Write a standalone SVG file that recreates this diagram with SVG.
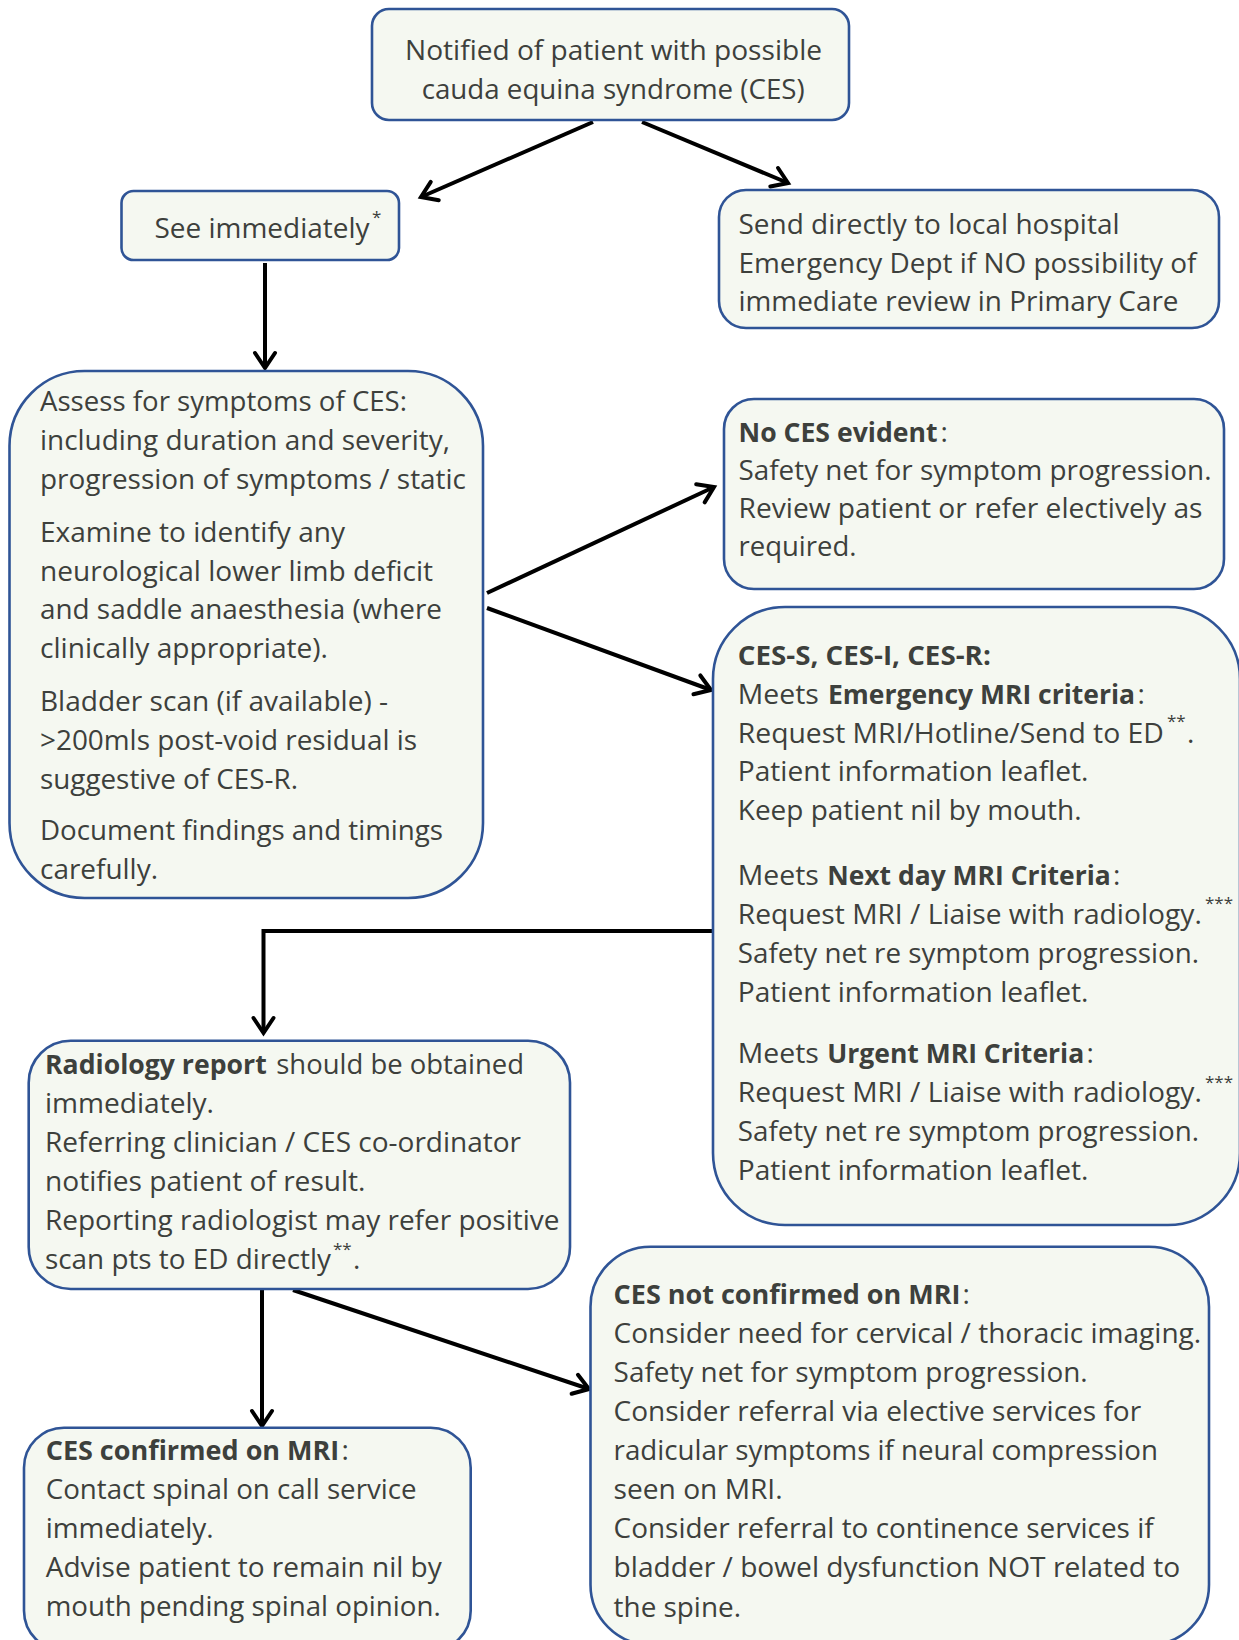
<svg xmlns="http://www.w3.org/2000/svg" width="1239" height="1640" viewBox="0 0 1239 1640">
<style>
.box{fill:#f5f8f1;stroke:#2f5496;stroke-width:2.6}
.t{font-family:"Open Sans","Noto Sans","DejaVu Sans",sans-serif;font-size:28px;fill:#3d403c}
.b{font-weight:bold;font-size:26.5px}
.sup{font-family:"Open Sans","Noto Sans","DejaVu Sans",sans-serif;font-size:17px;fill:#3d403c}
.conn{stroke:#000;stroke-width:4;fill:none}
</style>
<defs>
<marker id="arr" viewBox="0 0 24 24" markerWidth="24" markerHeight="24" refX="19" refY="12" orient="auto" markerUnits="userSpaceOnUse" overflow="visible">
<path d="M4,2 L19,12 L4,22" fill="none" stroke="#000" stroke-width="4" stroke-linecap="round" stroke-linejoin="miter"/>
</marker>
</defs>
<rect width="1239" height="1640" fill="#fff"/>

<g id="connectors">
<line class="conn" x1="593" y1="122" x2="421" y2="197" marker-end="url(#arr)"/>
<line class="conn" x1="642" y1="122" x2="788" y2="183" marker-end="url(#arr)"/>
<line class="conn" x1="265" y1="263" x2="265" y2="368" marker-end="url(#arr)"/>
<line class="conn" x1="487" y1="593" x2="714" y2="487" marker-end="url(#arr)"/>
<line class="conn" x1="487" y1="608" x2="711" y2="690" marker-end="url(#arr)"/>
<polyline class="conn" points="712,931 263.5,931 263.5,1033" marker-end="url(#arr)"/>
<line class="conn" x1="262" y1="1290" x2="262" y2="1426" marker-end="url(#arr)"/>
<line class="conn" x1="293" y1="1290" x2="589" y2="1389" marker-end="url(#arr)"/>
</g>

<g id="notified">
<rect class="box" x="372" y="9" width="477" height="111" rx="17"/>
<text class="t" x="405" y="60" textLength="417" lengthAdjust="spacingAndGlyphs">Notified of patient with possible</text>
<text class="t" x="421.7" y="98.5" textLength="383" lengthAdjust="spacingAndGlyphs">cauda equina syndrome (CES)</text>
</g>

<g id="see-immediately">
<rect class="box" x="121.5" y="191" width="277.5" height="69" rx="12"/>
<text class="t" x="154.5" y="238" textLength="215" lengthAdjust="spacingAndGlyphs">See immediately</text>
<text class="sup" x="372" y="222.5">*</text>
</g>

<g id="send-ed">
<rect class="box" x="719" y="190" width="500" height="138" rx="27"/>
<text class="t" x="738.5" y="234" textLength="381" lengthAdjust="spacingAndGlyphs">Send directly to local hospital</text>
<text class="t" x="738.5" y="272.5" textLength="458" lengthAdjust="spacingAndGlyphs">Emergency Dept if NO possibility of</text>
<text class="t" x="738.5" y="311" textLength="440" lengthAdjust="spacingAndGlyphs">immediate review in Primary Care</text>
</g>

<g id="assess">
<rect class="box" x="9.5" y="371" width="473.5" height="527" rx="75"/>
<text class="t" x="40" y="411" textLength="367" lengthAdjust="spacingAndGlyphs">Assess for symptoms of CES:</text>
<text class="t" x="40" y="450" textLength="410" lengthAdjust="spacingAndGlyphs">including duration and severity,</text>
<text class="t" x="40" y="488.5" textLength="426" lengthAdjust="spacingAndGlyphs">progression of symptoms / static</text>
<text class="t" x="40" y="542" textLength="305" lengthAdjust="spacingAndGlyphs">Examine to identify any</text>
<text class="t" x="40" y="580.5" textLength="393" lengthAdjust="spacingAndGlyphs">neurological lower limb deficit</text>
<text class="t" x="40" y="619" textLength="402" lengthAdjust="spacingAndGlyphs">and saddle anaesthesia (where</text>
<text class="t" x="40" y="658" textLength="288" lengthAdjust="spacingAndGlyphs">clinically appropriate).</text>
<text class="t" x="40" y="711" textLength="348" lengthAdjust="spacingAndGlyphs">Bladder scan (if available) -</text>
<text class="t" x="40" y="750" textLength="377" lengthAdjust="spacingAndGlyphs">&gt;200mls post-void residual is</text>
<text class="t" x="40" y="788.5" textLength="258" lengthAdjust="spacingAndGlyphs">suggestive of CES-R.</text>
<text class="t" x="40" y="840" textLength="403" lengthAdjust="spacingAndGlyphs">Document findings and timings</text>
<text class="t" x="40" y="878.5" textLength="118" lengthAdjust="spacingAndGlyphs">carefully.</text>
</g>

<g id="no-ces">
<rect class="box" x="724" y="399" width="500" height="190" rx="30"/>
<text class="t b" x="738.5" y="441.5" textLength="199" lengthAdjust="spacingAndGlyphs">No CES evident</text>
<text class="t" x="940.5" y="441.5">:</text>
<text class="t" x="738.5" y="480" textLength="473" lengthAdjust="spacingAndGlyphs">Safety net for symptom progression.</text>
<text class="t" x="738.5" y="518" textLength="464" lengthAdjust="spacingAndGlyphs">Review patient or refer electively as</text>
<text class="t" x="738.5" y="556" textLength="118" lengthAdjust="spacingAndGlyphs">required.</text>
</g>

<g id="ces-mri-criteria">
<rect class="box" x="713" y="607" width="527" height="618" rx="72"/>
<text class="t b" x="737.8" y="664.5" textLength="253" lengthAdjust="spacingAndGlyphs">CES-S, CES-I, CES-R:</text>
<text class="t" x="737.8" y="703.5" textLength="81" lengthAdjust="spacingAndGlyphs">Meets</text>
<text class="t b" x="828" y="703.5" textLength="307" lengthAdjust="spacingAndGlyphs">Emergency MRI criteria</text>
<text class="t" x="1137.5" y="703.5">:</text>
<text class="t" x="737.8" y="742.5" textLength="426" lengthAdjust="spacingAndGlyphs">Request MRI/Hotline/Send to ED</text>
<text class="sup" x="1167" y="727">**</text>
<text class="t" x="1187" y="742.5">.</text>
<text class="t" x="737.8" y="781" textLength="350.6" lengthAdjust="spacingAndGlyphs">Patient information leaflet.</text>
<text class="t" x="737.8" y="820" textLength="343.7" lengthAdjust="spacingAndGlyphs">Keep patient nil by mouth.</text>
<text class="t" x="737.8" y="885" textLength="81" lengthAdjust="spacingAndGlyphs">Meets</text>
<text class="t b" x="827.2" y="885" textLength="283.6" lengthAdjust="spacingAndGlyphs">Next day MRI Criteria</text>
<text class="t" x="1113" y="885">:</text>
<text class="t" x="737.8" y="923.5" textLength="464" lengthAdjust="spacingAndGlyphs">Request MRI / Liaise with radiology.</text>
<text class="sup" x="1205" y="909">***</text>
<text class="t" x="737.8" y="963" textLength="461.3" lengthAdjust="spacingAndGlyphs">Safety net re symptom progression.</text>
<text class="t" x="737.8" y="1002" textLength="350.6" lengthAdjust="spacingAndGlyphs">Patient information leaflet.</text>
<text class="t" x="737.8" y="1063" textLength="81" lengthAdjust="spacingAndGlyphs">Meets</text>
<text class="t b" x="827.2" y="1063" textLength="257" lengthAdjust="spacingAndGlyphs">Urgent MRI Criteria</text>
<text class="t" x="1086.5" y="1063">:</text>
<text class="t" x="737.8" y="1102" textLength="464" lengthAdjust="spacingAndGlyphs">Request MRI / Liaise with radiology.</text>
<text class="sup" x="1205" y="1088">***</text>
<text class="t" x="737.8" y="1141" textLength="461.3" lengthAdjust="spacingAndGlyphs">Safety net re symptom progression.</text>
<text class="t" x="737.8" y="1180" textLength="350.6" lengthAdjust="spacingAndGlyphs">Patient information leaflet.</text>
</g>

<g id="radiology-report">
<rect class="box" x="28.7" y="1040.7" width="541.3" height="248.3" rx="42"/>
<text class="t b" x="45" y="1074" textLength="221.7" lengthAdjust="spacingAndGlyphs">Radiology report</text>
<text class="t" x="276.3" y="1074" textLength="247.7" lengthAdjust="spacingAndGlyphs">should be obtained</text>
<text class="t" x="45" y="1113" textLength="169" lengthAdjust="spacingAndGlyphs">immediately.</text>
<text class="t" x="45" y="1152" textLength="476" lengthAdjust="spacingAndGlyphs">Referring clinician / CES co-ordinator</text>
<text class="t" x="45" y="1191" textLength="320.5" lengthAdjust="spacingAndGlyphs">notifies patient of result.</text>
<text class="t" x="45" y="1230" textLength="514.5" lengthAdjust="spacingAndGlyphs">Reporting radiologist may refer positive</text>
<text class="t" x="45" y="1269" textLength="286" lengthAdjust="spacingAndGlyphs">scan pts to ED directly</text>
<text class="sup" x="333" y="1254.5">**</text>
<text class="t" x="353" y="1269">.</text>
</g>

<g id="ces-not-confirmed">
<rect class="box" x="590.5" y="1246.7" width="618.5" height="398" rx="60"/>
<text class="t b" x="613.6" y="1304" textLength="346.8" lengthAdjust="spacingAndGlyphs">CES not confirmed on MRI</text>
<text class="t" x="962.5" y="1304">:</text>
<text class="t" x="613.6" y="1343" textLength="587.6" lengthAdjust="spacingAndGlyphs">Consider need for cervical / thoracic imaging.</text>
<text class="t" x="613.6" y="1382" textLength="474" lengthAdjust="spacingAndGlyphs">Safety net for symptom progression.</text>
<text class="t" x="613.6" y="1421" textLength="527.5" lengthAdjust="spacingAndGlyphs">Consider referral via elective services for</text>
<text class="t" x="613.6" y="1460" textLength="544.3" lengthAdjust="spacingAndGlyphs">radicular symptoms if neural compression</text>
<text class="t" x="613.6" y="1499" textLength="169" lengthAdjust="spacingAndGlyphs">seen on MRI.</text>
<text class="t" x="613.6" y="1538" textLength="540" lengthAdjust="spacingAndGlyphs">Consider referral to continence services if</text>
<text class="t" x="613.6" y="1577" textLength="566.6" lengthAdjust="spacingAndGlyphs">bladder / bowel dysfunction NOT related to</text>
<text class="t" x="613.6" y="1616.5" textLength="127.4" lengthAdjust="spacingAndGlyphs">the spine.</text>
</g>

<g id="ces-confirmed">
<rect class="box" x="24" y="1427.7" width="446.7" height="223" rx="40"/>
<text class="t b" x="45.7" y="1460" textLength="293.6" lengthAdjust="spacingAndGlyphs">CES confirmed on MRI</text>
<text class="t" x="341.5" y="1460">:</text>
<text class="t" x="45.7" y="1499" textLength="371" lengthAdjust="spacingAndGlyphs">Contact spinal on call service</text>
<text class="t" x="45.7" y="1538" textLength="168" lengthAdjust="spacingAndGlyphs">immediately.</text>
<text class="t" x="45.7" y="1577" textLength="396" lengthAdjust="spacingAndGlyphs">Advise patient to remain nil by</text>
<text class="t" x="45.7" y="1616" textLength="395" lengthAdjust="spacingAndGlyphs">mouth pending spinal opinion.</text>
</g>
</svg>
